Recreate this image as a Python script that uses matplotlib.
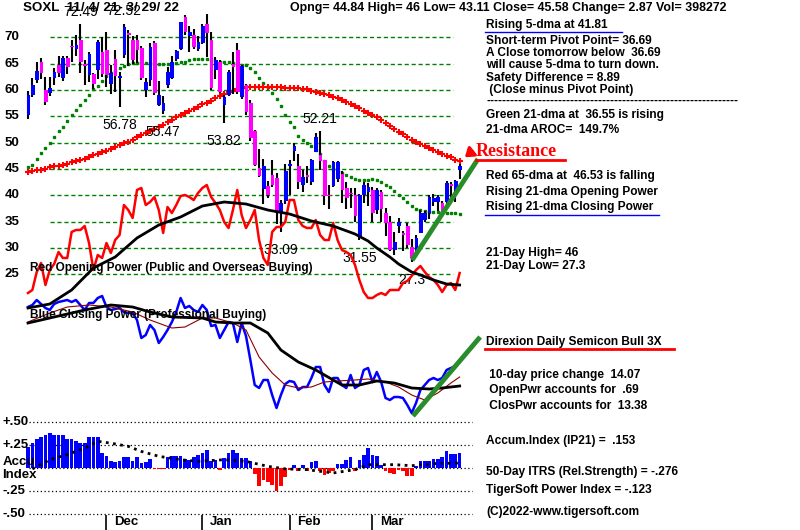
import matplotlib
matplotlib.use("Agg")
import matplotlib.pyplot as plt
from matplotlib.lines import Line2D
import numpy as np

plt.rcParams['font.family'] = ['Liberation Sans', 'DejaVu Sans']

# ---- price bars, one per trading day (11/4/21 .. 3/29/22) ----
opens = [55.3, 59.0, 61.9, 65.4, 60.0, 59.4, 62.2, 64.7, 62.2, 66.1,
         68.3, 67.7, 69.5, 65.0, 62.9, 63.0, 63.8, 67.3, 67.6, 61.1,
         65.9, 62.3, 66.6, 70.9, 69.5, 69.5, 67.9, 60.0, 61.9, 69.0,
         57.2, 56.1, 61.0, 62.2, 65.9, 67.7, 73.9, 70.2, 70.4, 67.7,
         69.0, 72.5, 69.5, 63.8, 65.4, 57.2, 59.1, 64.9, 67.5, 58.6,
         60.9, 57.6, 52.2, 45.2, 41.2, 41.8, 43.9, 43.3, 36.7, 39.0,
         45.5, 48.5, 45.6, 42.0, 43.8, 42.6, 48.3, 47.7, 46.7, 40.1,
         41.8, 43.1, 44.1, 41.4, 40.5, 40.1, 31.9, 40.0, 40.7, 41.0,
         37.2, 40.7, 36.6, 35.0, 29.6, 34.1, 32.9, 34.2, 30.3, 29.3,
         32.8, 35.3, 36.6, 38.8, 38.8, 38.6, 38.8, 42.0, 41.0, 44.84]
closes = [59.0, 60.9, 63.6, 63.3, 57.8, 60.4, 63.5, 63.2, 66.0, 64.4,
          68.1, 68.5, 65.4, 64.6, 66.9, 61.1, 69.2, 63.0, 62.9, 63.3,
          62.7, 62.7, 72.0, 70.4, 65.7, 67.6, 62.2, 61.6, 68.2, 59.4,
          59.1, 57.5, 63.5, 65.4, 67.4, 73.0, 71.1, 71.1, 68.2, 69.2,
          72.1, 70.9, 60.3, 65.7, 59.7, 58.7, 63.5, 64.4, 59.7, 64.6,
          55.9, 50.8, 45.8, 43.7, 45.6, 40.1, 42.0, 36.7, 38.6, 44.6,
          46.0, 49.4, 42.6, 43.5, 43.4, 46.7, 51.1, 46.5, 39.8, 39.8,
          46.3, 46.3, 41.0, 39.5, 40.2, 36.0, 40.1, 41.9, 41.6, 36.6,
          41.0, 37.5, 34.7, 29.6, 31.2, 35.0, 32.5, 30.6, 28.1, 31.9,
          36.6, 36.6, 39.7, 39.5, 39.7, 36.7, 42.4, 41.8, 42.7, 45.58]
highs = [59.8, 62.3, 65.4, 66.0, 62.5, 62.5, 64.2, 66.5, 66.5, 66.5,
         69.5, 70.5, 72.49, 65.7, 67.2, 63.3, 69.4, 70.1, 71.1, 64.7,
         67.5, 63.5, 72.52, 71.4, 70.3, 70.4, 68.3, 62.3, 68.9, 69.3,
         61.8, 58.8, 64.4, 66.4, 67.6, 73.0, 74.2, 72.2, 71.5, 70.2,
         72.6, 74.4, 71.0, 66.3, 65.6, 59.0, 63.8, 67.3, 69.0, 64.8,
         61.2, 58.1, 52.4, 48.8, 47.0, 42.7, 46.8, 44.2, 39.2, 46.0,
         46.8, 50.0, 47.8, 44.8, 45.5, 47.0, 51.9, 52.21, 46.7, 42.0,
         46.5, 46.6, 44.6, 42.5, 41.4, 41.4, 40.2, 42.5, 42.3, 41.5,
         41.4, 41.0, 37.7, 36.0, 33.1, 35.8, 33.2, 34.8, 31.7, 32.4,
         37.3, 37.0, 40.0, 40.2, 40.0, 39.0, 42.8, 42.6, 42.9, 46.0]
lows = [54.5, 58.7, 61.3, 62.0, 57.1, 58.9, 61.0, 62.5, 61.7, 63.0,
        65.3, 66.5, 63.2, 60.9, 61.6, 60.2, 62.0, 62.4, 60.6, 59.2,
        59.6, 56.78, 66.0, 64.5, 65.0, 65.1, 61.9, 58.7, 60.8, 59.0,
        57.0, 55.47, 60.3, 62.0, 65.5, 67.6, 70.4, 67.2, 67.8, 67.4,
        68.8, 66.3, 60.0, 62.0, 59.5, 53.82, 58.8, 59.2, 59.3, 58.3,
        55.3, 50.3, 45.5, 43.4, 38.3, 39.5, 41.5, 34.5, 33.09, 38.3,
        40.0, 46.5, 41.3, 40.7, 42.4, 41.9, 48.2, 44.8, 38.2, 37.5,
        41.6, 42.5, 38.5, 37.5, 37.6, 35.0, 31.55, 38.5, 38.0, 35.0,
        36.5, 35.0, 32.3, 29.4, 28.6, 32.8, 29.5, 30.0, 27.3, 28.4,
        32.8, 35.0, 35.6, 38.0, 37.0, 36.3, 37.5, 39.6, 38.8, 43.11]

# green 21-dma and red 65-dma, read per day
ma21 = [45.3, 45.8, 46.9, 48.0, 49.0, 49.9, 51.0, 52.3, 53.0, 54.2,
        55.3, 56.3, 57.1, 58.1, 59.0, 60.1, 60.8, 61.8, 62.7, 63.2,
        63.7, 64.2, 64.6, 64.9, 65.1, 65.1, 65.1, 65.1, 65.1, 65.0,
        65.0, 64.9, 64.9, 65.0, 65.2, 65.3, 65.4, 65.6, 65.8, 65.9,
        65.9, 65.8, 65.7, 65.5, 65.4, 65.3, 65.3, 65.1, 64.9, 64.8,
        64.7, 64.2, 63.5, 62.2, 61.3, 60.6, 59.5, 58.3, 57.0, 55.3,
        54.0, 52.9, 51.3, 50.6, 50.0, 49.3, 48.6, 47.8, 46.5, 45.6,
        45.0, 44.6, 44.2, 43.9, 43.5, 43.1, 43.0, 42.9, 43.0, 43.1,
        42.9, 42.5, 42.0, 41.6, 40.8, 40.1, 39.5, 38.8, 37.9, 37.5,
        37.2, 37.1, 36.9, 36.9, 36.9, 36.8, 36.7, 36.6, 36.6, 36.55]
ma65 = [44.5, 44.6, 44.8, 44.9, 45.1, 45.3, 45.5, 45.6, 45.8, 46.0,
        46.3, 46.5, 46.8, 47.0, 47.3, 47.6, 47.9, 48.2, 48.5, 48.8,
        49.2, 49.5, 49.9, 50.2, 50.6, 51.0, 51.4, 51.8, 52.2, 52.6,
        53.0, 53.4, 53.9, 54.3, 54.8, 55.2, 55.6, 56.0, 56.4, 56.8,
        57.3, 57.6, 58.0, 58.5, 58.9, 59.3, 59.6, 59.9, 60.1, 60.3,
        60.5, 60.6, 60.6, 60.6, 60.6, 60.6, 60.6, 60.5, 60.5, 60.4,
        60.4, 60.3, 60.3, 60.2, 60.1, 59.9, 59.7, 59.5, 59.2, 59.0,
        58.7, 58.4, 58.1, 57.8, 57.4, 57.0, 56.6, 56.1, 55.6, 55.2,
        54.8, 54.3, 53.8, 53.2, 52.6, 52.1, 51.6, 51.1, 50.6, 50.2,
        49.8, 49.4, 49.0, 48.6, 48.2, 47.9, 47.5, 47.2, 46.8, 46.53]

# opening power (red) and closing power (blue), arbitrary index units
open_power = [127, 130, 148, 157, 135, 150, 156, 168, 162, 162,
              188, 190, 190, 194, 177, 150, 165, 162, 177, 167,
              180, 185, 215, 210, 202, 230, 232, 215, 218, 223,
              210, 187, 213, 207, 215, 224, 225, 223, 220, 227,
              232, 235, 223, 217, 210, 198, 192, 210, 230, 205,
              192, 200, 210, 180, 162, 155, 188, 193, 193, 198,
              220, 220, 200, 194, 192, 192, 200, 185, 180, 180,
              197, 180, 170, 168, 165, 155, 140, 128, 122, 122,
              125, 127, 125, 130, 130, 130, 137, 139, 144, 150,
              154, 148, 143, 140, 135, 128, 135, 137, 130, 147]
op_ma_days = [0, 5, 10, 15, 20, 25, 30, 35, 40, 45, 50, 55, 60, 65, 70,
              75, 78, 80, 83, 85, 88, 90, 93, 96, 99]
op_ma_vals = [112, 116, 130, 152, 163, 182, 195, 203, 214, 218, 216, 210,
              206, 199, 194, 186, 179, 172, 163, 156, 148, 145, 140, 136, 135]

close_power = [113, 115, 120, 116, 112, 110, 116, 118, 119, 120,
               118, 120, 115, 110, 117, 117, 122, 124, 113, 110,
               111, 112, 108, 107, 107, 100, 82, 85, 95, 90,
               77, 83, 90, 98, 108, 122, 112, 114, 110, 108,
               115, 110, 94, 95, 82, 90, 98, 97, 78, 97,
               84, 60, 35, 32, 40, 40, 25, 12, 25, 36,
               39, 38, 30, 33, 33, 42, 53, 53, 35, 28,
               42, 42, 35, 32, 45, 32, 35, 50, 52, 38,
               48, 38, 22, 20, 23, 23, 22, 15, 7, 17,
               30, 35, 40, 42, 40, 42, 50, 52, 54, 59]
cp_ma_days = [0, 5, 13, 19, 24, 28, 33, 40, 43, 47, 51, 55, 58, 62, 66,
              70, 72, 76, 80, 84, 88, 92, 95, 99]
cp_ma_vals = [97, 102, 110, 115, 113, 108, 103, 102, 98, 97, 97, 87, 70,
              58, 50, 40, 35, 35, 39, 37, 32, 31, 32, 34]
cp_ma2_days = [0, 5, 9, 14, 19, 24, 28, 33, 36, 40, 43, 47, 50, 53, 56,
               59, 62, 65, 68, 71, 75, 78, 82, 85, 88, 91, 94, 97, 99]
cp_ma2_vals = [98, 107, 113, 115, 113, 108, 100, 92, 93, 102, 102, 97, 90,
               63, 47, 35, 32, 33, 38, 39, 40, 41, 38, 33, 25, 20, 27, 37, 43]

# accumulation index (IP21)
accum = [0.228, 0.27, 0.32, 0.34, 0.355, 0.38, 0.36, 0.36, 0.36, 0.315,
         0.315, 0.29, 0.27, 0.27, 0.337, 0.337, 0.337, 0.16, 0.127, 0.072,
         0.062, 0.072, 0.12, 0.12, 0.072, 0.12, 0.054, 0.062, 0.098, -0.015,
         -0.015, -0.015, 0.12, 0.134, 0.134, 0.127, 0.098, 0.09, 0.12, 0.145,
         0.163, 0.2, 0.072, 0.09, -0.025, 0.109, 0.163, 0.2, 0.163, 0.109,
         0.109, 0.072, -0.07, -0.2, -0.13, -0.15, -0.18, -0.25, -0.2, -0.1,
         -0.02, 0.036, -0.036, 0.036, -0.036, 0.062, 0.072, -0.036, -0.072, -0.054,
         -0.03, 0.047, 0.047, 0.09, 0.12, -0.03, 0.09, 0.145, 0.22, 0.14,
         0.13, 0.03, -0.03, -0.05, -0.07, -0.02, -0.03, -0.09, -0.09, 0.02,
         0.072, 0.072, 0.072, 0.1, 0.1, 0.12, 0.188, 0.153, 0.153, 0.163]
acc_ma_days = [1, 5, 9, 13, 16, 19, 23, 26, 30, 35, 39, 45, 50, 55, 59, 64,
               70, 75, 78, 84, 88, 93, 99]
acc_ma_vals = [-0.01, 0.09, 0.145, 0.217, 0.29, 0.27, 0.235, 0.18, 0.127,
               0.09, 0.072, 0.09, 0.072, 0.018, -0.01, -0.018, -0.054,
               -0.018, 0.036, 0.036, 0.025, 0.047, 0.054]

price_levels = [70, 65, 60, 55, 50, 45, 40, 35, 30, 25]
acc_levels = [0.5, 0.25, 0.0, -0.25, -0.5]
acc_labels = ['+.50', '+.25', '', '-.25', '-.50']
month_days = [18, 40, 60, 79]
month_names = ['Dec', 'Jan', 'Feb', 'Mar']
high_marks = [12, 22, 67]
low_marks = [21, 31, 45, 58, 76, 88]

# trend lines drawn by the analyst (day, value)
price_trend = ([88.1, 103.2], [27.7, 46.9])
cp_trend = ([88.3, 103.7], [4, 83])

header_left = 'SOXL  11/ 4/ 21- 3/ 29/ 22'
header_right = 'Opng= 44.84 High= 46 Low= 43.11 Close= 45.58 Change= 2.87 Vol= 398272'
panel_lines = [
    ('Rising 5-dma at 41.81', 25),
    ('Short-term Pivot Point= 36.69', 41),
    ('A Close tomorrow below  36.69', 53),
    ('will cause 5-dma to turn down.', 65),
    ('Safety Difference = 8.89', 78),
    (' (Close minus Pivot Point)', 90),
    ('-' * 63, 101),
    ('Green 21-dma at  36.55 is rising', 115),
    ('21-dma AROC=  149.7%', 130),
    ('Red 65-dma at  46.53 is falling', 176),
    ('Rising 21-dma Opening Power', 192),
    ('Rising 21-dma Closing Power', 207),
    ('21-Day High= 46', 253),
    ('21-Day Low= 27.3', 266),
    ('Direxion Daily Semicon Bull 3X', 342),
    (' 10-day price change  14.07', 375),
    (' OpenPwr accounts for  .69', 390),
    (' ClosPwr accounts for  13.38', 406),
    ('Accum.Index (IP21) =  .153', 441),
    ('50-Day ITRS (Rel.Strength) = -.276', 472),
    ('TigerSoft Power Index = -.123', 490),
    ('(C)2022-www.tigersoft.com', 512),
]

W, H = 800, 530
X0, DX = 28, 4.36   # pixel of first bar, pixels per trading day
XLIM = (-X0 / DX, (W - X0) / DX)


def frame(top, bottom):
    return [0, 1 - bottom / H, 1, (bottom - top) / H]


fig = plt.figure(figsize=(8, 5.3), dpi=100)
fig.patch.set_facecolor('white')

ax_p = fig.add_axes(frame(0, 300))
ax_w = fig.add_axes(frame(150, 420))
ax_a = fig.add_axes(frame(400, 530))
for ax in (ax_p, ax_w, ax_a):
    ax.set_xlim(XLIM)
    ax.axis('off')
    ax.patch.set_alpha(0)
ax_p.set_ylim(20.15, 77.08)
ax_w.set_ylim(0, 270)
ax_a.set_ylim(-0.674, 0.739)

days = np.arange(len(closes))
o = np.array(opens)
c = np.array(closes)

# ---- price panel ----
ax_p.hlines(price_levels, 5, 97.5, colors='#008000', linestyles=(0, (3, 2)), lw=1, zorder=1)
ylab = ax_p.get_yaxis_transform()
for lvl in price_levels:
    ax_p.text(0.006, lvl, str(lvl), transform=ylab, fontsize=9.5, fontweight='bold', va='center')

ax_p.plot(days, ma21, ls='none', marker='s', ms=1.6, color='#008000', zorder=2)
ax_p.plot(days, ma65, ls='none', marker='+', ms=4.5, mew=1.5, color='#ff0000', zorder=2)

ax_p.vlines(days, lows, highs, colors='black', lw=1.5, zorder=3)
body_col = np.where(c >= o, '#0000ff', '#ff00ff')
body_h = np.maximum(np.abs(c - o), 0.3)
ax_p.bar(days + 0.1, body_h, bottom=np.minimum(o, c), width=0.85, color=body_col, zorder=4)

for d in high_marks:
    ax_p.annotate(f'{highs[d]:.2f}'.rstrip('0'), (d, highs[d]), xytext=(0, 4),
                  textcoords='offset points', ha='center', va='bottom', fontsize=10)
for d in low_marks:
    ax_p.annotate(f'{lows[d]:.2f}'.rstrip('0'), (d, lows[d]), xytext=(0, -8),
                  textcoords='offset points', ha='center', va='top', fontsize=10)

ax_p.plot(*price_trend, color='#2a8c2a', lw=3.5, solid_capstyle='butt', zorder=5)
ax_p.annotate('', xy=(99.7, 46.9), xytext=(102.4, 48.7),
              arrowprops=dict(arrowstyle='-|>,head_length=0.5,head_width=0.35',
                              color='red', lw=2.2))

# ---- power panel ----
ax_w.plot(days, open_power, color='#ff0000', lw=1.8, zorder=3)
ax_w.plot(op_ma_days, op_ma_vals, color='black', lw=2, zorder=4)
ax_w.plot(days, close_power, color='#0000ff', lw=1.8, zorder=3)
ax_w.plot(cp_ma2_days, cp_ma2_vals, color='#8b0000', lw=0.8, zorder=4)
ax_w.plot(cp_ma_days, cp_ma_vals, color='black', lw=2, zorder=4)
ax_w.plot(*cp_trend, color='#2a8c2a', lw=3.5, solid_capstyle='butt', zorder=5)

fig.text(30 / W, 1 - 268 / H, 'Red Opening Power (Public and Overseas Buying)',
         fontsize=8.5, fontweight='bold', va='center')
fig.text(30 / W, 1 - 315 / H, 'Blue Closing Power (Professional Buying)',
         fontsize=8.5, fontweight='bold', va='center')

# ---- accumulation panel ----
ax_a.hlines(acc_levels, 0.3, 101.8, colors='black', linestyles=(0, (1, 2)), lw=0.9)
acc = np.array(accum)
ax_a.bar(days, acc, width=0.85, color=np.where(acc >= 0, '#0000ff', '#ff0000'), zorder=2)
ax_a.plot(acc_ma_days, acc_ma_vals, color='black', lw=2, ls=(0, (1, 1.6)), zorder=3)
alab = ax_a.get_yaxis_transform()
for lvl, lab in zip(acc_levels, acc_labels):
    if lab:
        ax_a.text(0.003, lvl, lab, transform=alab, fontsize=9.5, fontweight='bold', va='center')
ax_a.text(0.003, 0.065, 'Accu', transform=alab, fontsize=9.5, fontweight='bold', va='center')
ax_a.text(0.003, -0.076, 'Index', transform=alab, fontsize=9.5, fontweight='bold', va='center')
ax_a.vlines(month_days, -0.674, -0.51, colors='black', lw=1.2)
for d, name in zip(month_days, month_names):
    ax_a.text(d + 1.7, -0.59, name, fontsize=9.5, fontweight='bold', va='center')

# ---- header and side panel ----
fig.text(23 / W, 1 - 8 / H, header_left, fontsize=9.6, fontweight='bold', va='center')
fig.text(290 / W, 1 - 8 / H, header_right, fontsize=8.95, fontweight='bold', va='center')
for txt, y in panel_lines:
    fig.text(486 / W, 1 - y / H, txt, fontsize=8.6, fontweight='bold', va='center')

fig.text(476 / W, 1 - 151 / H, 'Resistance', fontsize=13, fontweight='bold',
         family='Liberation Serif', color='red', va='center')


def underline(x0, x1, y, color, lw):
    fig.add_artist(Line2D([x0 / W, x1 / W], [1 - y / H, 1 - y / H], color=color, lw=lw))


underline(485, 622, 32, '#0000ff', 1)
underline(485, 659, 215, '#0000ff', 1)
underline(476, 565, 160, 'red', 2)
underline(485, 674, 349, 'red', 2)

fig.savefig('out.png', dpi=100)
